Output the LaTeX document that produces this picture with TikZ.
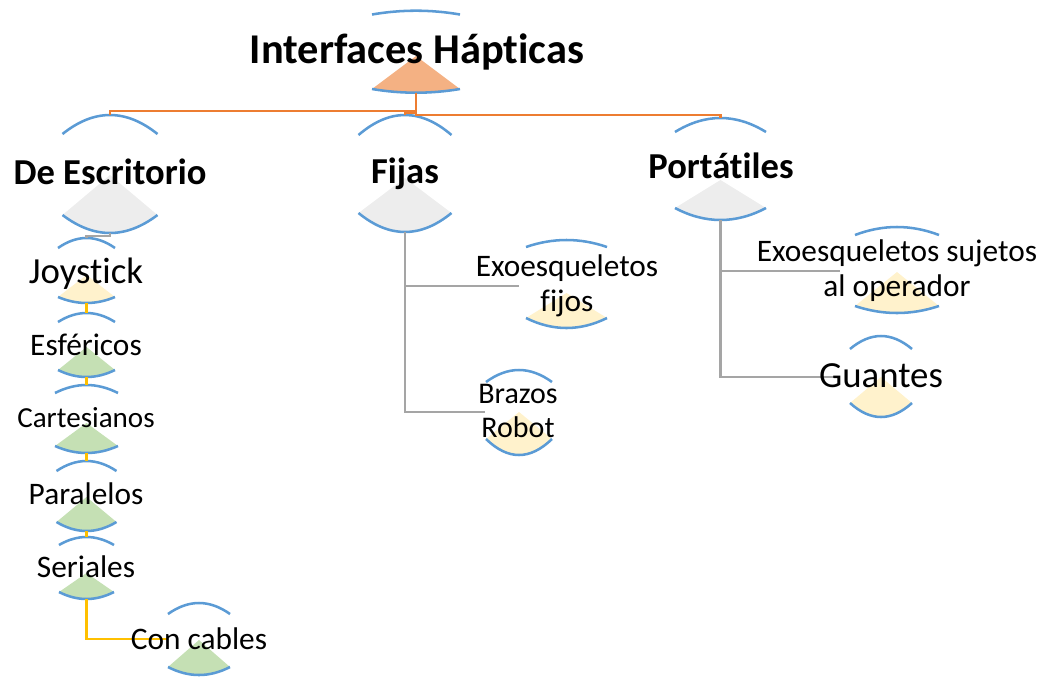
\documentclass[tikz,border=0pt]{standalone}
\usepackage{fontspec}
\setmainfont[Ligatures={NoCommon}]{Carlito}
\definecolor{arcblue}{HTML}{5B9BD5}
\definecolor{lnorange}{HTML}{ED7D31}
\definecolor{lngray}{HTML}{A5A5A5}
\definecolor{lnyellow}{HTML}{FFC000}
\definecolor{rootfill}{HTML}{F4B183}
\definecolor{grayfill}{HTML}{EDEDED}
\definecolor{yelfill}{HTML}{FFF2CC}
\definecolor{grnfill}{HTML}{C5E0B4}
\tikzset{
  arcln/.style={draw=arcblue, line width=1.9pt},
  orln/.style={draw=lnorange, line width=1.8pt},
  grln/.style={draw=lngray, line width=1.8pt},
  yeln/.style={draw=lnyellow, line width=1.8pt},
  lbl/.style={anchor=base, inner sep=0pt, text=black},
  rootfont/.style={font=\fontsize{31.8pt}{38pt}\selectfont\bfseries},
  lvlfont/.style={font=\fontsize{27.4pt}{33pt}\selectfont\bfseries},
  bigfont/.style={font=\fontsize{27.6pt}{33pt}\selectfont},
  midfont/.style={font=\fontsize{23.5pt}{26.25pt}\selectfont},
}
% #1 name, #2 cx, #3 half width, #4 top chord y, #5 top peak y,
% #6 apex y, #7 bottom chord y, #8 bottom y, #9 fill
\newcommand\hnshape[9]{%
  \coordinate (#1-t) at (#2,#5);
  \coordinate (#1-b) at (#2,#8);
  \draw[arcln] ({#2-#3},#4) .. controls ({#2-#3/3},{#4+4/3*(#5-#4)}) and ({#2+#3/3},{#4+4/3*(#5-#4)}) .. ({#2+#3},#4);
  \fill[#9] (#2,#6) -- ({#2-#3},#7) .. controls ({#2-#3/3},{#7+4/3*(#8-#7)}) and ({#2+#3/3},{#7+4/3*(#8-#7)}) .. ({#2+#3},#7) -- cycle;
  \draw[arcln] ({#2-#3},#7) .. controls ({#2-#3/3},{#7+4/3*(#8-#7)}) and ({#2+#3/3},{#7+4/3*(#8-#7)}) .. ({#2+#3},#7);
}
\begin{document}
\begin{tikzpicture}[x=0.75pt,y=-0.75pt]
\useasboundingbox (0,0) rectangle (1047,676);
% shapes
\hnshape{R}{416}{44}{14.5}{10.7}{56}{89}{92.7}{rootfill}
\hnshape{D}{110}{47.5}{134}{115}{175}{215}{233}{grayfill}
\hnshape{F}{405}{46.5}{135}{115}{178}{213}{232}{grayfill}
\hnshape{P}{720.5}{45.5}{132}{118}{180}{208}{220}{grayfill}
\hnshape{J}{86.5}{28.5}{248}{238}{275}{297}{303}{yelfill}
\hnshape{E}{86.5}{28.5}{322}{313}{347}{370}{377}{grnfill}
\hnshape{C}{86.5}{31.5}{393}{385}{423}{446}{453}{grnfill}
\hnshape{Pa}{86.5}{30}{471}{461}{497}{522}{531}{grnfill}
\hnshape{S}{86.5}{27.5}{545}{537}{573}{592}{599}{grnfill}
\hnshape{CC}{199}{31}{614}{603}{640}{667}{675}{grnfill}
\hnshape{EF}{566.5}{40.5}{247}{240}{293}{318}{328}{yelfill}
\hnshape{BR}{519}{33}{382}{370}{412}{439}{455}{yelfill}
\hnshape{ES}{897}{42}{235}{227}{272}{306}{313}{yelfill}
\hnshape{G}{881}{31}{349}{336}{377}{403}{417}{yelfill}
% branch targets
\coordinate (CC-w) at (168,639);
\coordinate (EF-w) at (519,286);
\coordinate (BR-w) at (485,412);
\coordinate (ES-w) at (840,271);
\coordinate (G-w) at (840,377);
% connectors
\draw[orln] (R-b) -- ++(0,18) -| (D-t);
\draw[orln] (R-b) -- ++(0,20) -| (F-t);
\draw[orln] (R-b) -- ++(0,22) -| (P-t);
\draw[grln] (D-b) -- ++(0,3) -| (J-t);
\draw[yeln] (J-b) -- (E-t);
\draw[yeln] (E-b) -- (C-t);
\draw[yeln] (C-b) -- (Pa-t);
\draw[yeln] (Pa-b) -- (S-t);
\draw[yeln] (S-b) |- (CC-w);
\draw[grln] (F-b) |- (EF-w);
\draw[grln] (F-b) |- (BR-w);
\draw[grln] (P-b) |- (ES-w);
\draw[grln] (P-b) |- (G-w);
% labels
\node[lbl, rootfont] (Rt) at (417,63) {Interfaces Hápticas};
\node[lbl, lvlfont] (Dt) at (110,184) {De Escritorio};
\node[lbl, lvlfont] (Ft) at (405,183) {Fijas};
\node[lbl, lvlfont] (Pt) at (721,178) {Portátiles};
\node[lbl, bigfont] (Jt) at (86,283) {Joystick};
\node[lbl, midfont] (Et) at (86,355) {Esféricos};
\node[lbl, font=\fontsize{21.8pt}{26pt}\selectfont] (Ct) at (86,427) {Cartesianos};
\node[lbl, midfont] (Pat) at (86,504) {Paralelos};
\node[lbl, midfont] (St) at (86,577) {Seriales};
\node[lbl, midfont] (CCt) at (199,649) {Con cables};
\node[lbl, midfont, align=center] (EFt) at (567,311) {Exoesqueletos\\fijos};
\node[lbl, font=\fontsize{22.5pt}{25.5pt}\selectfont, align=center] (BRt) at (518,437) {Brazos\\Robot};
\node[lbl, midfont, align=center] (ESt) at (897,296) {Exoesqueletos sujetos\\al operador};
\node[lbl, bigfont] (Gt) at (881,387) {Guantes};
\end{tikzpicture}
\end{document}
